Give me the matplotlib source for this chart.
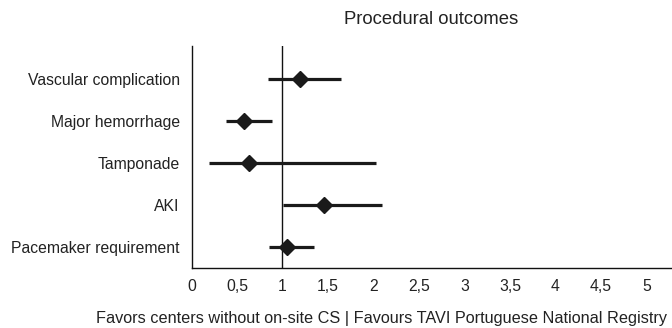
import matplotlib
matplotlib.use("Agg")
import matplotlib.pyplot as plt

plt.rcParams['font.family'] = ['Liberation Sans', 'DejaVu Sans']

outcomes = ["Vascular complication", "Major hemorrhage", "Tamponade", "AKI", "Pacemaker requirement"]
estimate = [1.19, 0.58, 0.63, 1.46, 1.05]
ci_low = [0.84, 0.38, 0.19, 1.01, 0.85]
ci_high = [1.64, 0.88, 2.03, 2.09, 1.35]
xticks = [0, 0.5, 1, 1.5, 2, 2.5, 3, 3.5, 4, 4.5, 5]
xticklabels = ["0", "0,5", "1", "1,5", "2", "2,5", "3", "3,5", "4", "4,5", "5"]

txt = "#222222"

fig = plt.figure(figsize=(6.72, 3.28), dpi=100)
ax = fig.add_axes([191.5 / 672, 1 - 268 / 328, (671 - 191.5) / 672, (268 - 46) / 328])

ypos = list(range(len(outcomes), 0, -1))

ax.axvline(1, color="#111111", lw=1.0, zorder=1)
ax.hlines(ypos, ci_low, ci_high, color="#1a1a1a", lw=2.3, zorder=2)
ax.plot(estimate, ypos, "D", color="#1a1a1a", ms=8.5, zorder=3)

ax.set_xlim(0, 5.27)
ax.set_ylim(0.5, 5.79)

ax.set_yticks(ypos)
ax.set_yticklabels(outcomes)
ax.set_xticks(xticks)
ax.set_xticklabels(xticklabels)
ax.tick_params(length=0, labelsize=11.3, colors=txt)
ax.tick_params(axis="x", pad=8)
ax.tick_params(axis="y", pad=8.5)

for s in ["top", "right"]:
    ax.spines[s].set_visible(False)
for s in ["left", "bottom"]:
    ax.spines[s].set_color("#111111")
    ax.spines[s].set_linewidth(1.0)

fig.text(431 / 672, 1 - 19 / 328, "Procedural outcomes", ha="center", va="center",
         fontsize=13.3, color=txt)
fig.text(382 / 672, 1 - 318 / 328,
         "Favors centers without on-site CS | Favours TAVI Portuguese National Registry",
         ha="center", va="center", fontsize=11.7, color=txt)

fig.savefig("out.png", dpi=100)
